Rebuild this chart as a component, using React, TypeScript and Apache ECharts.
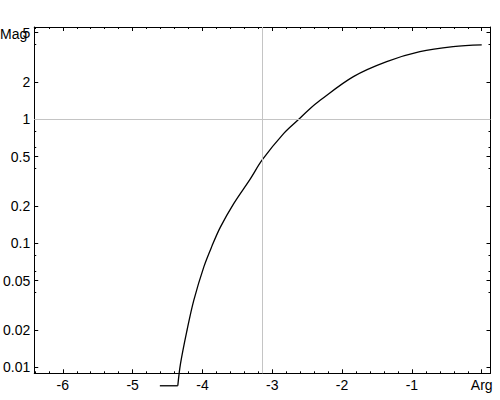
import { useEffect, useRef } from "react";
import * as echarts from "echarts";

// curve (Arg on x, Mag on a log y scale)
const argValues = [-4.61, -4.353, -4.314, -4.22, -4.124, -3.98, -3.862, -3.743, -3.552, -3.314, -3.1416, -2.838, -2.62, -2.48, -2.31, -1.838, -1.361, -0.886, -0.41, 0];
const magValues = [0.0071, 0.0071, 0.0107, 0.02, 0.0347, 0.0646, 0.0955, 0.135, 0.209, 0.331, 0.472, 0.766, 1.0, 1.19, 1.43, 2.21, 2.92, 3.51, 3.85, 3.98];

const argTicks = [-6, -5, -4, -3, -2, -1, 0];
const magTicks = [0.01, 0.02, 0.05, 0.1, 0.2, 0.5, 1, 2, 5];
const magMinorTicks = [0.04, 0.06, 0.08, 0.4, 0.6, 0.8, 4];

const crossArg = -Math.PI;
const crossMag = 1;

const FONT = "'Liberation Sans', Arial, sans-serif";

export default function App(): JSX.Element {
  const chartRef = useRef<HTMLDivElement>(null);
  useEffect(() => {
    const chart = echarts.init(chartRef.current, null, { renderer: "svg" });
    const lg = (v: number) => Math.log10(v);
    const xMin = -2 * Math.PI - 0.04 * Math.PI;
    const xMax = 0.04 * Math.PI;
    const yMin = lg(0.00895);
    const yMax = lg(5.55);

    const argMinor: number[] = [];
    for (let i = -32; i <= 0; i++) {
      if (i % 5 !== 0) argMinor.push(Number((i * 0.2).toFixed(1)));
    }

    const line = { show: true, onZero: false, lineStyle: { color: "#000", width: 1 } };
    const noLine = { show: false, onZero: false };
    const noLabel = { show: false };
    const xBase = { type: "value", min: xMin, max: xMax, splitLine: { show: false } };
    const yBase = { type: "value", min: yMin, max: yMax, splitLine: { show: false } };
    const tick = (len: number, vals: number[]) => ({
      inside: true,
      length: len,
      customValues: vals,
      lineStyle: { color: "#000" },
    });

    const pts = argValues.map((a, i) => [a, lg(magValues[i])]);

    const option = {
      animation: false,
      grid: { left: 33, right: 9.5, top: 27, bottom: 26.7 },
      xAxis: [
        {
          ...xBase,
          position: "bottom",
          axisLine: line,
          axisTick: tick(4, argTicks),
          axisLabel: {
            customValues: argTicks,
            margin: 5,
            color: "#000",
            fontSize: 14,
            fontFamily: FONT,
            formatter: (v: number) => (v === 0 ? "Arg" : String(v)),
          },
        },
        { ...xBase, position: "bottom", axisLine: noLine, axisTick: tick(2, argMinor), axisLabel: noLabel },
        { ...xBase, position: "top", axisLine: line, axisTick: tick(4, argTicks), axisLabel: noLabel },
        { ...xBase, position: "top", axisLine: noLine, axisTick: tick(2, argMinor), axisLabel: noLabel },
      ],
      yAxis: [
        {
          ...yBase,
          position: "left",
          axisLine: line,
          axisTick: tick(4, magTicks.map(lg)),
          axisLabel: {
            customValues: magTicks.map(lg),
            margin: 4,
            color: "#000",
            fontSize: 14,
            fontFamily: FONT,
            formatter: (v: number) => String(Number(Math.pow(10, v).toPrecision(1))),
          },
        },
        { ...yBase, position: "left", axisLine: noLine, axisTick: tick(2, magMinorTicks.map(lg)), axisLabel: noLabel },
        { ...yBase, position: "right", axisLine: line, axisTick: tick(4, magTicks.map(lg)), axisLabel: noLabel },
        { ...yBase, position: "right", axisLine: noLine, axisTick: tick(2, magMinorTicks.map(lg)), axisLabel: noLabel },
      ],
      graphic: [
        {
          type: "text",
          x: 0,
          y: 34,
          style: { text: "Mag", fill: "#000", font: `14px ${FONT}`, verticalAlign: "middle" },
        },
      ],
      series: [
        {
          // flat stub below the frame
          type: "line",
          data: pts.slice(0, 2),
          showSymbol: false,
          clip: false,
          lineStyle: { color: "#000", width: 1.3 },
          z: 3,
        },
        {
          type: "line",
          xAxisIndex: 0,
          yAxisIndex: 0,
          data: pts.slice(1),
          showSymbol: false,
          clip: false,
          smooth: 0.35,
          lineStyle: { color: "#000", width: 1.3 },
          markLine: {
            silent: true,
            symbol: "none",
            label: { show: false },
            lineStyle: { color: "#c4c4c4", width: 1, type: "solid" },
            data: [{ xAxis: crossArg }, { yAxis: lg(crossMag) }],
          },
          z: 3,
        },
      ],
    };
    chart.setOption(option);
    return () => {
      chart.dispose();
    };
  }, []);

  return (
    <div
      ref={chartRef}
      style={{ position: "absolute", left: 0, top: 0, width: 500, height: 400, background: "#fff" }}
    ></div>
  );
}
